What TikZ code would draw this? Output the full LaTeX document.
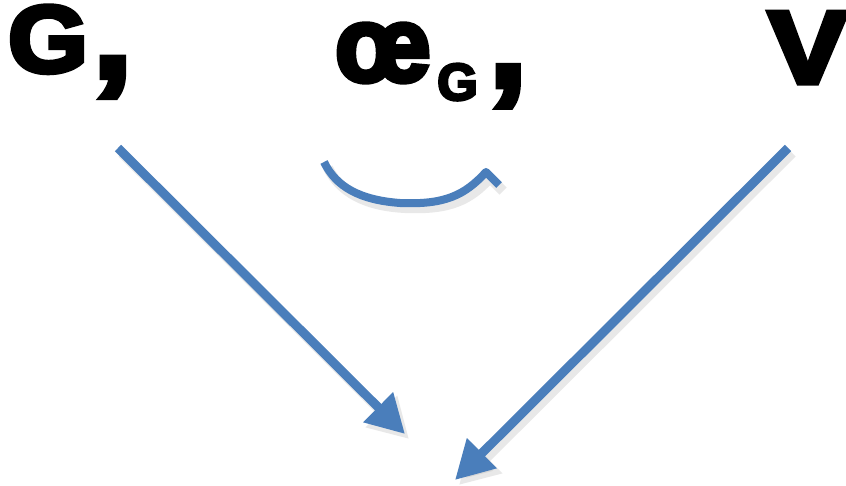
\documentclass[tikz,border=0pt]{standalone}
\usepackage{fontspec}
\newfontfamily\heavy[BoldFeatures={FakeBold=5}]{Liberation Sans}
\usetikzlibrary{arrows.meta}
\definecolor{arrowblue}{HTML}{4A7EBB}
\newcommand{\bigcomma}[1]{\raisebox{-5pt}{\scalebox{#1}{,}}}
\tikzset{
  bigtext/.style={inner sep=0pt, anchor=base west, font=\heavy\bfseries},
  bluearrow/.style={draw=arrowblue, line width=9pt, -{Triangle[length=38pt,width=40pt]}},
  shadowarrow/.style={draw=black!40, opacity=0.22, line width=10pt, -{Triangle[length=39pt,width=42pt]}},
  bluecurve/.style={draw=arrowblue, line width=8pt, line join=round},
  shadowcurve/.style={draw=black!40, opacity=0.22, line width=10pt, line join=round},
}
\begin{document}
\begin{tikzpicture}[x=1pt,y=-1pt]
\useasboundingbox (0,0) rectangle (846,486);
\fill[white] (0,0) rectangle (846,486);
% texts
\node[bigtext, xscale=1.08, transform shape] (G) at (8,72) {\fontsize{95}{95}\selectfont G\kern5pt\bigcomma{1.35}};
\node[bigtext] (oe) at (335,81) {\fontsize{106}{106}\selectfont\scalebox{0.95}[1]{œ}\kern7pt\raisebox{-19pt}{\fontsize{52}{52}\selectfont G}\kern12pt\bigcomma{1.25}};
\node[bigtext, xscale=1.15, transform shape] (V) at (768,83) {\fontsize{103}{103}\selectfont V};
% coordinates
\coordinate (a1s) at (118,148);
\coordinate (a1e) at (405,434);
\coordinate (a2s) at (788,148);
\coordinate (a2e) at (455,480);
% shadows
\draw[shadowarrow] ([shift={(4,5)}]a1s) -- ([shift={(4,5)}]a1e);
\draw[shadowarrow] ([shift={(4,5)}]a2s) -- ([shift={(4,5)}]a2e);
\draw[shadowcurve] (328,168) .. controls (340,192) and (365,206) .. (405,208)
  .. controls (450,210) and (470,200) .. (490,178) -- (503,191);
% arrows
\draw[bluearrow] (a1s) -- (a1e);
\draw[bluearrow] (a2s) -- (a2e);
\draw[bluecurve] (324,162) .. controls (336,187) and (360,200) .. (400,203)
  .. controls (445,205) and (465,195) .. (486,172) -- (499,185);
\end{tikzpicture}
\end{document}
